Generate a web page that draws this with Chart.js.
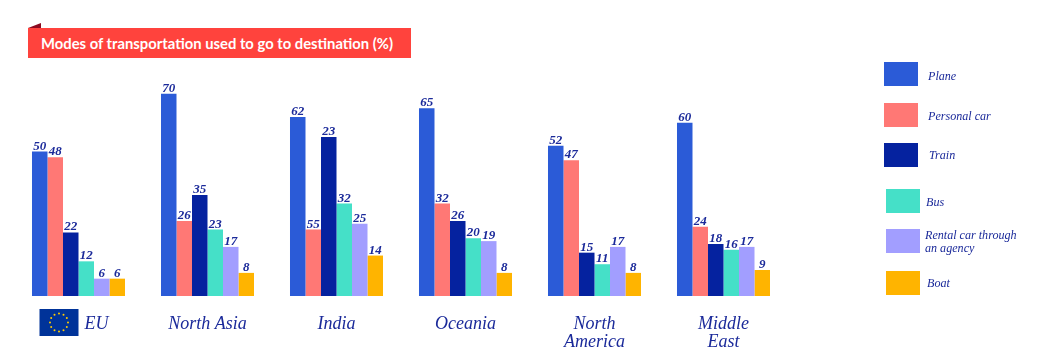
<!DOCTYPE html>
<html>
<head>
<meta charset="utf-8">
<title>Modes of transportation</title>
<script src="https://cdn.jsdelivr.net/npm/chart.js@4"></script>
<style>
  html, body { margin: 0; padding: 0; background: #fff; }
  #wrap { position: relative; width: 1045px; height: 364px; overflow: hidden; }
  #salesCanvas { position: absolute; left: 0; top: 0; }
  #banner {
    position: absolute; left: 28px; top: 28px; width: 383px; height: 30px;
    background: #ff433d; color: #fff; box-sizing: border-box; padding-left: 13px;
    font: 700 14.8px/30px Lato, sans-serif; white-space: nowrap;
  }
  #fold {
    position: absolute; left: 28px; top: 23px; width: 13px; height: 5px;
    background: #8b0a20; clip-path: polygon(100% 0, 100% 100%, 0 100%);
  }
  .swatch { position: absolute; width: 34px; height: 24px; }
  .entry {
    position: absolute; color: #1b2a9a; transform: translateY(-50%);
    font: italic 12.1px/13px "Liberation Serif", serif;
  }
</style>
</head>
<body>
<div id="wrap">
  <canvas id="salesCanvas" width="1045" height="364"></canvas>
  <div id="fold"></div>
  <div id="banner">Modes of transportation used to go to destination (%)</div>
</div>
<script>
const regions = ["        EU", "North Asia", "India", "Oceania", ["North", "America"], ["Middle", "East"]];

const plane = [50, 70, 62, 65, 52, 60];
const personalCar = [48, 26, 23, 32, 47, 24];
const train = [22, 35, 55, 26, 15, 18];
const bus = [12, 23, 32, 20, 11, 16];
const rentalCar = [6, 17, 25, 19, 17, 17];
const boat = [6, 8, 14, 8, 8, 9];

// the source prints these two India labels swapped against the bar heights
const personalCarPrinted = [48, 26, 55, 32, 47, 24];
const trainPrinted = [22, 35, 23, 26, 15, 18];

const seriesNames = ["Plane", "Personal car", "Train", "Bus", ["Rental car through", "an agency"], "Boat"];
const seriesColors = ["#2b5bd7", "#ff7875", "#05229f", "#45e0c8", "#a29eff", "#ffb400"];

// legend placement: swatch x, swatch y, text x, text centre y
const legendSpots = [
  [884, 62, 928, 76],
  [884, 103, 928, 116],
  [884, 143, 929, 155],
  [886, 189, 926, 202],
  [886, 229, 925, 242],
  [886, 271, 927, 283],
];

const inkBlue = "#1b2a9a";

const wrap = document.getElementById("wrap");
seriesNames.forEach((name, i) => {
  const spot = legendSpots[i];
  const swatch = document.createElement("div");
  swatch.className = "swatch";
  swatch.style.left = spot[0] + "px";
  swatch.style.top = spot[1] + "px";
  swatch.style.background = seriesColors[i];
  wrap.appendChild(swatch);

  const entry = document.createElement("div");
  entry.className = "entry";
  entry.style.left = spot[2] + "px";
  entry.style.top = spot[3] + "px";
  entry.innerHTML = [].concat(name).join("<br>");
  wrap.appendChild(entry);
});

// numbers above the bars
const barNumbers = {
  id: "barNumbers",
  afterDatasetsDraw(chart) {
    const c = chart.ctx;
    c.save();
    c.font = "italic bold 13px 'Liberation Serif', serif";
    c.fillStyle = inkBlue;
    c.textAlign = "center";
    c.textBaseline = "alphabetic";
    chart.data.datasets.forEach((ds, d) => {
      chart.getDatasetMeta(d).data.forEach((bar, i) => {
        c.fillText(ds.printed[i], bar.x, bar.y - 2);
      });
    });
    c.restore();
  },
};

// EU flag in front of the first axis label
const euFlag = {
  id: "euFlag",
  afterDraw(chart) {
    const c = chart.ctx;
    const x0 = chart.scales.x.getPixelForTick(0) - 39;
    const y0 = chart.chartArea.bottom + 13;
    c.save();
    c.fillStyle = "#003399";
    c.fillRect(x0, y0, 39, 27);
    c.fillStyle = "#ffcc00";
    for (let k = 0; k < 12; k++) {
      const a = (k * Math.PI) / 6;
      c.beginPath();
      c.arc(x0 + 19.5 + 9 * Math.cos(a), y0 + 13.5 + 9 * Math.sin(a), 1, 0, Math.PI * 2);
      c.fill();
    }
    c.restore();
  },
};

const ctx = document.getElementById("salesCanvas").getContext("2d");

const chart = new Chart(ctx, {
  type: "bar",
  data: {
    labels: regions,
    datasets: [
      { label: "Plane", data: plane, printed: plane, backgroundColor: seriesColors[0] },
      { label: "Personal car", data: personalCar, printed: personalCarPrinted, backgroundColor: seriesColors[1] },
      { label: "Train", data: train, printed: trainPrinted, backgroundColor: seriesColors[2] },
      { label: "Bus", data: bus, printed: bus, backgroundColor: seriesColors[3] },
      { label: "Rental car through an agency", data: rentalCar, printed: rentalCar, backgroundColor: seriesColors[4] },
      { label: "Boat", data: boat, printed: boat, backgroundColor: seriesColors[5] },
    ],
  },
  options: {
    responsive: false,
    animation: false,
    categoryPercentage: 0.721,
    barPercentage: 1,
    layout: { padding: { left: 14, right: 257, top: 36, bottom: 0 } },
    plugins: {
      legend: { display: false },
      title: { display: false },
      tooltip: { enabled: false },
    },
    scales: {
      x: {
        grid: { display: false },
        border: { display: false },
        afterFit(scale) {
          scale.height = 68;
        },
        ticks: {
          autoSkip: false,
          maxRotation: 0,
          padding: 11,
          color: inkBlue,
          font: { family: "'Liberation Serif', serif", style: "italic", size: 18, lineHeight: 1 },
        },
      },
      y: {
        display: false,
        min: 0,
        max: 90,
      },
    },
  },
  plugins: [barNumbers, euFlag],
});
</script>
</body>
</html>
